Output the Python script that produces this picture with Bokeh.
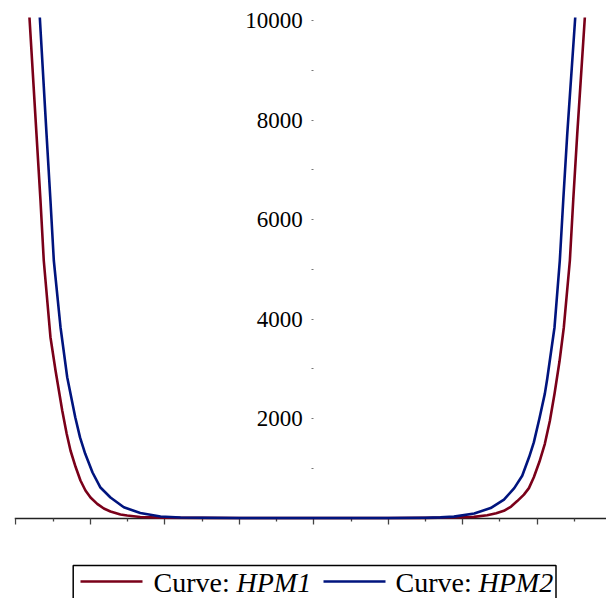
from bokeh.plotting import figure
from bokeh.models import FixedTicker, Range1d
from bokeh.layouts import column
from bokeh.embed import file_html
from bokeh.resources import INLINE
from bokeh.core.properties import value

# ---- data ----
hpm1_x = [-3.819, -3.725, -3.671, -3.627, -3.537, -3.469, -3.379, -3.320, -3.268,
          -3.200, -3.134, -3.067, -2.999, -2.909, -2.820, -2.731, -2.597, -2.506,
          -2.331, -2.059, -1.5, -1.0, 0.0, 1.0, 1.5,
          1.836, 2.150, 2.329, 2.45, 2.553, 2.65, 2.732, 2.822, 2.889, 2.955,
          3.030, 3.103, 3.170, 3.233, 3.300, 3.358, 3.439, 3.484, 3.538, 3.640]
hpm1_y = [10060, 7722, 6382, 5176, 3634, 2965, 2161, 1700, 1357,
          1030, 754, 553, 412, 285, 190, 131, 70, 50,
          20, 8, 2, 0, 0, 0, 2,
          10, 22, 55, 95, 145, 230, 340, 470, 600, 820,
          1130, 1491, 1950, 2496, 3150, 3835, 5176, 6382, 7722, 10060]

hpm2_x = [-3.680, -3.590, -3.537, -3.492, -3.402, -3.312, -3.204, -3.140, -3.070,
          -2.972, -2.869, -2.731, -2.552, -2.331, -2.059, -1.79, -1.5, -1.0,
          0.0, 1.0, 1.5, 1.70, 1.882, 2.154, 2.375, 2.554, 2.692, 2.799, 2.893,
          2.955, 3.030, 3.103, 3.135, 3.233, 3.304, 3.350, 3.404, 3.511]
hpm2_y = [10060, 7722, 6382, 5176, 3835, 2830, 2026, 1620, 1290,
          915, 619, 412, 217, 100, 30, 10, 4, 0,
          0, 0, 5, 12, 28, 90, 200, 370, 600, 850, 1230,
          1520, 2000, 2500, 2800, 3835, 5176, 6382, 7722, 10060]

x_major_ticks = [-4, -3, -2, -1, 0, 1, 2, 3]
x_minor_ticks = [-3.5, -2.5, -1.5, -0.5, 0.5, 1.5, 2.5, 3.5]
y_major_ticks = [2000, 4000, 6000, 8000, 10000]
y_minor_ticks = [1000, 3000, 5000, 7000, 9000]
y_tick_labels = ["2000", "4000", "6000", "8000", "10000"]

series_names = ["HPM1", "HPM2"]
red = "#7A0019"
blue = "#00147E"

SERIF = value("Liberation Serif")

p = figure(width=606, height=549,
           x_range=Range1d(-4.020, 3.931), y_range=Range1d(-633, 10402),
           output_backend="svg", toolbar_location=None,
           min_border_left=14, min_border_right=0, min_border_top=0, min_border_bottom=0)
p.outline_line_color = None
p.grid.visible = False

p.line(hpm1_x, hpm1_y, line_color=red, line_width=2.6, line_join="round")
p.line(hpm2_x, hpm2_y, line_color=blue, line_width=2.6, line_join="round")

xa = p.xaxis[0]
xa.fixed_location = 0
xa.ticker = FixedTicker(ticks=x_major_ticks, minor_ticks=x_minor_ticks)
xa.major_label_overrides = {t: "" for t in x_major_ticks}
xa.axis_line_color = "#222222"
xa.axis_line_width = 1.6
xa.major_tick_in = 0
xa.major_tick_out = 6
xa.minor_tick_in = 0
xa.minor_tick_out = 3
xa.major_tick_line_color = "#444444"
xa.minor_tick_line_color = "#444444"
xa.major_tick_line_width = 1.3
xa.minor_tick_line_width = 1.3
xa.level = "underlay"

ya = p.yaxis[0]
ya.fixed_location = 0
ya.ticker = FixedTicker(ticks=y_major_ticks, minor_ticks=y_minor_ticks)
ya.major_label_overrides = {t: lab for t, lab in zip(y_major_ticks, y_tick_labels)}
ya.axis_line_color = None
ya.major_tick_in = 0
ya.major_tick_out = 2
ya.minor_tick_in = 0
ya.minor_tick_out = 2
ya.major_tick_line_color = "#777777"
ya.minor_tick_line_color = "#777777"
ya.major_label_text_font = "Liberation Serif"
ya.major_label_text_font_size = "23px"
ya.major_label_text_color = "black"
ya.major_label_standoff = 9

# ---- legend strip (coordinates are page pixels) ----
lg = figure(width=606, height=49, x_range=Range1d(14, 606), y_range=Range1d(1, 50),
            x_axis_type=None, y_axis_type=None,
            output_backend="svg", toolbar_location=None,
            min_border_left=14, min_border_right=0, min_border_top=0, min_border_bottom=0)
lg.grid.visible = False
lg.outline_line_color = None
lg.quad(left=[72.7], right=[555.5], top=[34], bottom=[-5],
        fill_color=None, line_color="black", line_width=1.5)
lg.segment(x0=[80, 323], y0=[18, 18], x1=[142, 385], y1=[18, 18],
           line_color=[red, blue], line_width=2.6)
lg.text(x=[153, 395], y=[17, 17], text=["Curve:", "Curve:"],
        text_font=SERIF, text_font_size=value("28px"), text_color="black",
        text_baseline="middle", text_align="left")
lg.text(x=[236, 478], y=[17, 17], text=series_names,
        text_font=SERIF, text_font_size=value("28px"), text_font_style="italic",
        text_color="black", text_baseline="middle", text_align="left")

layout = column(p, lg)
open("out.html", "w").write(file_html(layout, INLINE))
